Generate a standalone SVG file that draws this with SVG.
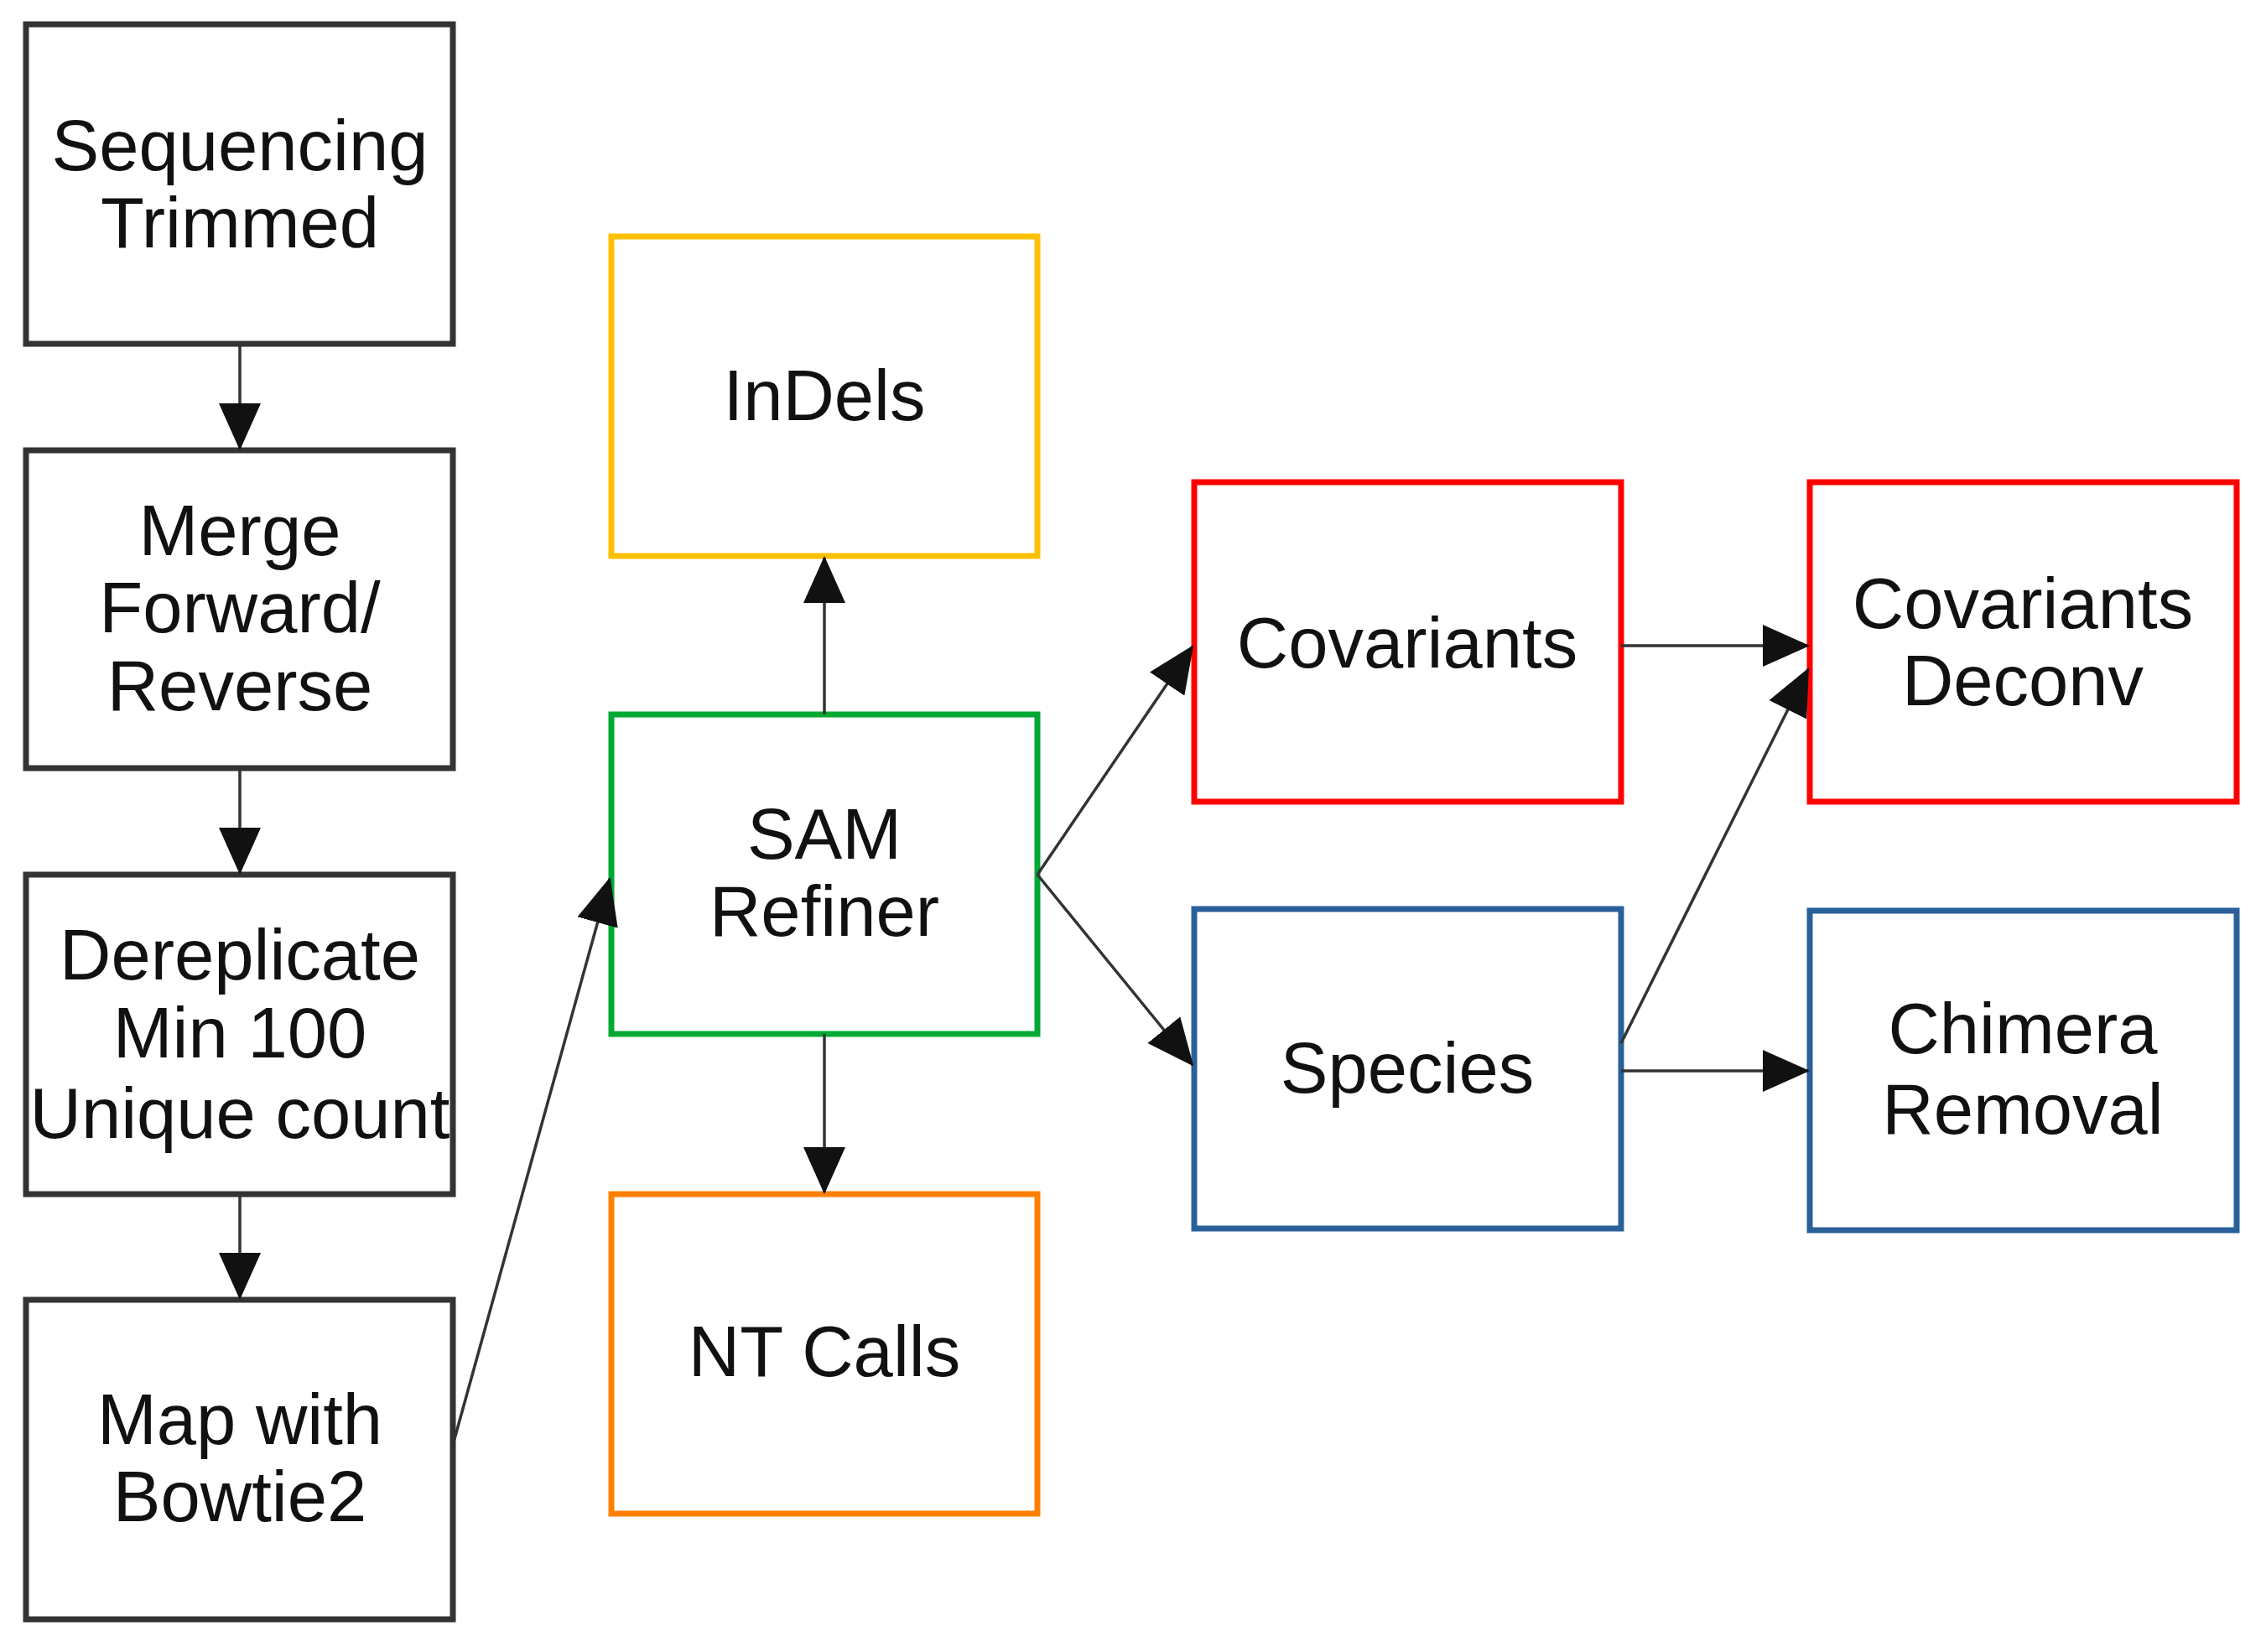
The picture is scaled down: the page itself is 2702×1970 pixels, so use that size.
<svg xmlns="http://www.w3.org/2000/svg" width="2702" height="1970" viewBox="0 0 2702 1970">
<defs>
<style>
.b{fill:#fff;stroke-width:7}
.k{stroke:#333}.y{stroke:#ffc000}.g{stroke:#00a933}.o{stroke:#ff8000}.r{stroke:#ff0000}.u{stroke:#2a6099}
text{font-family:"Liberation Sans",Arial,sans-serif;font-size:85px;fill:#111;text-anchor:middle;dominant-baseline:central}
.c line{stroke:#333;stroke-width:3.5;marker-end:url(#a)}
</style>
<marker id="a" markerUnits="userSpaceOnUse" markerWidth="56" markerHeight="50" refX="54" refY="25" orient="auto"><path d="M0,0L56,25L0,50Z" fill="#111"/></marker>
</defs>
<rect width="2702" height="1970" fill="#fff"/>
<g id="seq"><rect class="b k" x="31" y="29" width="509" height="381"/><text x="286" y="173">Sequencing</text><text x="286" y="265">Trimmed</text></g>
<g id="merge"><rect class="b k" x="31" y="537" width="509" height="379"/><text x="286" y="632">Merge</text><text x="286" y="724">Forward/</text><text x="286" y="817">Reverse</text></g>
<g id="derep"><rect class="b k" x="31" y="1043" width="509" height="381"/><text x="286" y="1138">Dereplicate</text><text x="286" y="1231">Min 100</text><text x="286" y="1327">Unique count</text></g>
<g id="map"><rect class="b k" x="31" y="1550" width="509" height="381"/><text x="286" y="1692">Map with</text><text x="286" y="1784">Bowtie2</text></g>
<g id="indels"><rect class="b y" x="729" y="282" width="508" height="381"/><text x="983" y="471">InDels</text></g>
<g id="sam"><rect class="b g" x="729" y="852" width="508" height="381"/><text x="983" y="994">SAM</text><text x="983" y="1086">Refiner</text></g>
<g id="nt"><rect class="b o" x="729" y="1424" width="508" height="381"/><text x="983" y="1611">NT Calls</text></g>
<g id="cov"><rect class="b r" x="1424" y="575" width="509" height="381"/><text x="1678" y="766">Covariants</text></g>
<g id="species"><rect class="b u" x="1424" y="1084" width="509" height="381"/><text x="1678" y="1273">Species</text></g>
<g id="covdec"><rect class="b r" x="2158" y="575" width="509" height="381"/><text x="2412" y="719">Covariants</text><text x="2412" y="811">Deconv</text></g>
<g id="chimera"><rect class="b u" x="2158" y="1086" width="509" height="381"/><text x="2412" y="1226">Chimera</text><text x="2412" y="1322">Removal</text></g>
<g class="c" id="connectors">
<line x1="286" y1="410" x2="286" y2="535"/>
<line x1="286" y1="916" x2="286" y2="1041"/>
<line x1="286" y1="1424" x2="286" y2="1548"/>
<line x1="540" y1="1723" x2="727" y2="1048"/>
<line x1="983" y1="852" x2="983" y2="665"/>
<line x1="983" y1="1233" x2="983" y2="1422"/>
<line x1="1237" y1="1043" x2="1422" y2="771"/>
<line x1="1237" y1="1043" x2="1422" y2="1270"/>
<line x1="1933" y1="770" x2="2156" y2="770"/>
<line x1="1933" y1="1244" x2="2156" y2="798"/>
<line x1="1933" y1="1277" x2="2156" y2="1277"/>
</g>
</svg>
